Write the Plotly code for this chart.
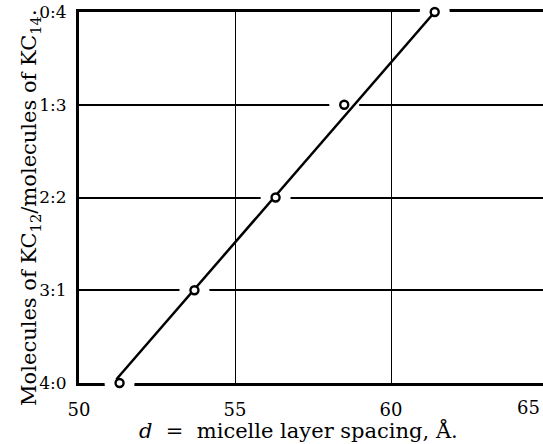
import plotly.graph_objects as go

# Data
spacing_d = [51.3, 53.7, 56.3, 58.5, 61.4]          # micelle layer spacing, Å
ratio_index = [0, 1, 2, 3, 4]                        # position on the ratio axis
ratio_labels = ["4:0", "3:1", "2:2", "1:3", "0:4"]   # KC12 : KC14
fit_d = [51.2, 61.4]
fit_index = [0.04, 4.0]
x_ticks = [50, 55, 60]
x_tick_labels = ["50", "55", "60"]

FONT = "DejaVu Serif, Liberation Serif, serif"

fig = go.Figure()
# white halos that interrupt the axis and grid lines around each point
fig.add_trace(go.Scatter(x=spacing_d, y=ratio_index, mode="markers",
                         marker=dict(size=30, color="white", line=dict(width=0)),
                         hoverinfo="skip", showlegend=False, cliponaxis=False))
fig.add_trace(go.Scatter(x=fit_d, y=fit_index, mode="lines",
                         line=dict(color="black", width=2.5),
                         showlegend=False, cliponaxis=False))
fig.add_trace(go.Scatter(x=spacing_d, y=ratio_index, mode="markers",
                         marker=dict(size=8, color="white", line=dict(color="black", width=2.4)),
                         showlegend=False, cliponaxis=False))

fig.update_layout(
    width=543, height=444,
    margin=dict(l=79, r=0, t=12, b=61),
    plot_bgcolor="white", paper_bgcolor="white",
    font=dict(family=FONT, size=16, color="black"),
    xaxis=dict(range=[50, 64.87], tickvals=x_ticks, ticktext=x_tick_labels,
               showgrid=True, gridcolor="black", gridwidth=1.2,
               showline=True, linecolor="black", linewidth=3, mirror=True,
               ticks="", ticklen=0, zeroline=False, layer="below traces",
               tickfont=dict(size=18), ticklabelstandoff=8, automargin=False),
    yaxis=dict(range=[0, 4], tickvals=ratio_index, ticktext=ratio_labels,
               showgrid=True, gridcolor="black", gridwidth=1.5,
               showline=True, linecolor="black", linewidth=3,
               ticks="", ticklen=0, zeroline=False, layer="below traces",
               tickfont=dict(size=17), ticklabelstandoff=6, automargin=False,
               ticklabeloverflow="allow"),
    annotations=[
        dict(text="65", xref="paper", yref="paper", x=0.968, y=-0.0647,
             xanchor="center", yanchor="middle", showarrow=False, font=dict(size=18)),
        dict(text="<i>d</i>\u00a0 =\u00a0 micelle layer spacing, Å.", xref="paper", yref="paper",
             x=0.4725, y=-0.128, xanchor="center", yanchor="middle",
             showarrow=False, font=dict(size=21)),
        dict(text="Molecules of KC<sub>12</sub>/molecules of KC<sub>14</sub>.",
             xref="paper", yref="paper", x=-0.1056, y=0.472, textangle=-90,
             xanchor="center", yanchor="middle", showarrow=False, font=dict(size=21)),
    ],
)

fig.write_html("out.html", config={"displayModeBar": False},
               post_script="document.body.style.margin='0px';")
